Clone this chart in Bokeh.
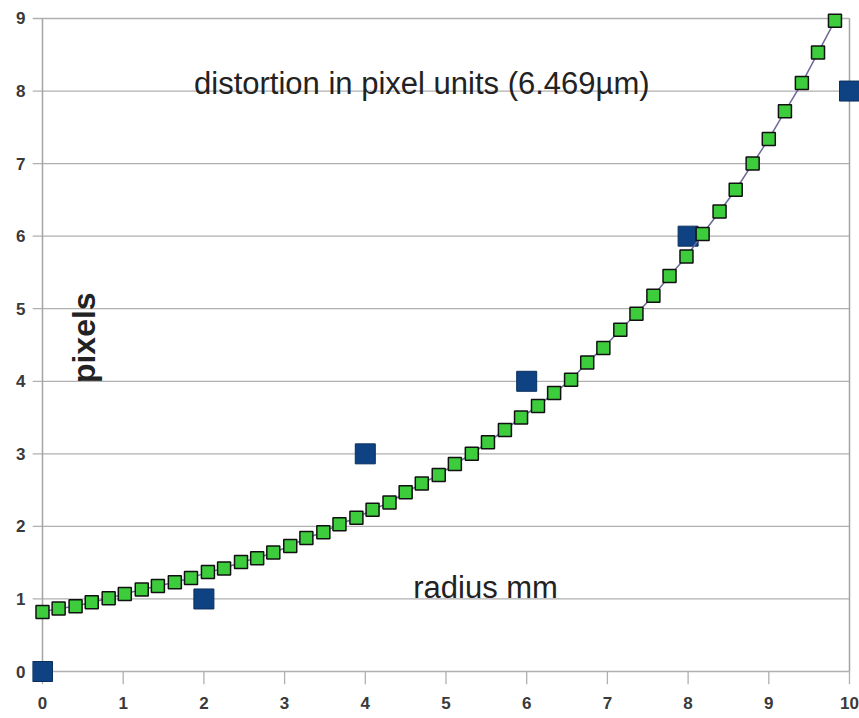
import math
from bokeh.plotting import figure
from bokeh.models import Range1d, FixedTicker, Label
from bokeh.embed import file_html
from bokeh.resources import INLINE

# ---- data ----
x_ticks = [0, 1, 2, 3, 4, 5, 6, 7, 8, 9, 10]
y_ticks = [0, 1, 2, 3, 4, 5, 6, 7, 8, 9]

measured_x = [0, 2, 4, 6, 8, 10]
measured_y = [0, 1, 3, 4, 6, 8]

model_x = [0.00, 0.20, 0.41, 0.61, 0.82, 1.02, 1.23, 1.43, 1.64, 1.84,
           2.05, 2.25, 2.46, 2.66, 2.86, 3.07, 3.27, 3.48, 3.68, 3.89,
           4.09, 4.30, 4.50, 4.70, 4.91, 5.11, 5.32, 5.52, 5.73, 5.93,
           6.14, 6.34, 6.55, 6.75, 6.95, 7.16, 7.36, 7.57, 7.77, 7.98,
           8.18, 8.39, 8.59, 8.80, 9.00, 9.20, 9.41, 9.61, 9.82]
model_y = [0.82, 0.87, 0.90, 0.955, 1.01, 1.07, 1.13, 1.18, 1.23, 1.29,
           1.37, 1.42, 1.51, 1.56, 1.64, 1.73, 1.84, 1.92, 2.03, 2.12,
           2.23, 2.33, 2.47, 2.59, 2.71, 2.86, 3.00, 3.16, 3.33, 3.50,
           3.66, 3.84, 4.02, 4.26, 4.46, 4.71, 4.93, 5.18, 5.45, 5.72,
           6.03, 6.34, 6.64, 7.00, 7.34, 7.72, 8.11, 8.53, 8.97]

title_text = "distortion in pixel units (6.469\u00b5m)"
xlabel_text = "radius mm"
ylabel_text = "pixels"

# ---- layout ----
X0, X1 = -0.1239, 10.124
Y0, Y1 = -0.179, 9.248

p = figure(width=859, height=718, x_range=Range1d(X0, X1), y_range=Range1d(Y0, Y1),
           output_backend="svg", toolbar_location=None,
           min_border_left=32, min_border_right=0, min_border_top=0, min_border_bottom=34)
p.outline_line_color = None
p.grid.visible = False
p.background_fill_color = "white"
p.border_fill_color = "white"

for ax, ticks, standoff in ((p.xaxis[0], x_ticks, 12), (p.yaxis[0], y_ticks, 7)):
    ax.ticker = FixedTicker(ticks=ticks)
    ax.axis_line_color = None
    ax.major_tick_line_color = None
    ax.minor_tick_line_color = None
    ax.major_tick_in = 0
    ax.major_tick_out = 0
    ax.major_label_standoff = standoff
    ax.major_label_text_font = "Liberation Sans"
    ax.major_label_text_font_size = "17px"
    ax.major_label_text_font_style = "bold"
    ax.major_label_text_color = "#3a3a3a"

grid_col = "#b0b0b0"
# horizontal grid lines (extend left as tick marks)
p.segment(x0=[X0] * len(y_ticks), x1=[x_ticks[-1]] * len(y_ticks),
          y0=y_ticks, y1=y_ticks, line_color=grid_col, line_width=1.3)
# x tick marks
p.segment(x0=x_ticks, x1=x_ticks, y0=[Y0] * len(x_ticks), y1=[y_ticks[0]] * len(x_ticks),
          line_color=grid_col, line_width=1.3)
# left axis line and right border
p.segment(x0=[x_ticks[0], x_ticks[-1]], x1=[x_ticks[0], x_ticks[-1]],
          y0=[y_ticks[0]] * 2, y1=[y_ticks[-1]] * 2, line_color="#a4a4a4", line_width=1.5)

# measured points
p.scatter(measured_x, measured_y, marker="square", size=20,
          fill_color="#0f4282", line_color="#0a2f5e", line_width=1)

# model curve
p.line(model_x, model_y, line_color="#6a6a9a", line_width=1.5)
p.scatter(model_x, model_y, marker="square", size=13,
          fill_color="#3ccc3c", line_color="#111111", line_width=1.5)

p.add_layout(Label(x=4.70, y=8.11, text=title_text, text_align="center",
                   text_baseline="alphabetic", text_font="Liberation Sans",
                   text_font_size="31px", text_color="#222222"))
p.add_layout(Label(x=5.49, y=1.16, text=xlabel_text, text_align="center",
                   text_baseline="alphabetic", text_font="Liberation Sans",
                   text_font_size="31px", text_color="#222222"))
p.add_layout(Label(x=0.52, y=4.60, text=ylabel_text, angle=math.pi / 2,
                   text_align="center", text_baseline="middle",
                   text_font="Liberation Sans", text_font_size="32px",
                   text_font_style="bold", text_color="#222222"))

open("out.html", "w").write(file_html(p, INLINE))
